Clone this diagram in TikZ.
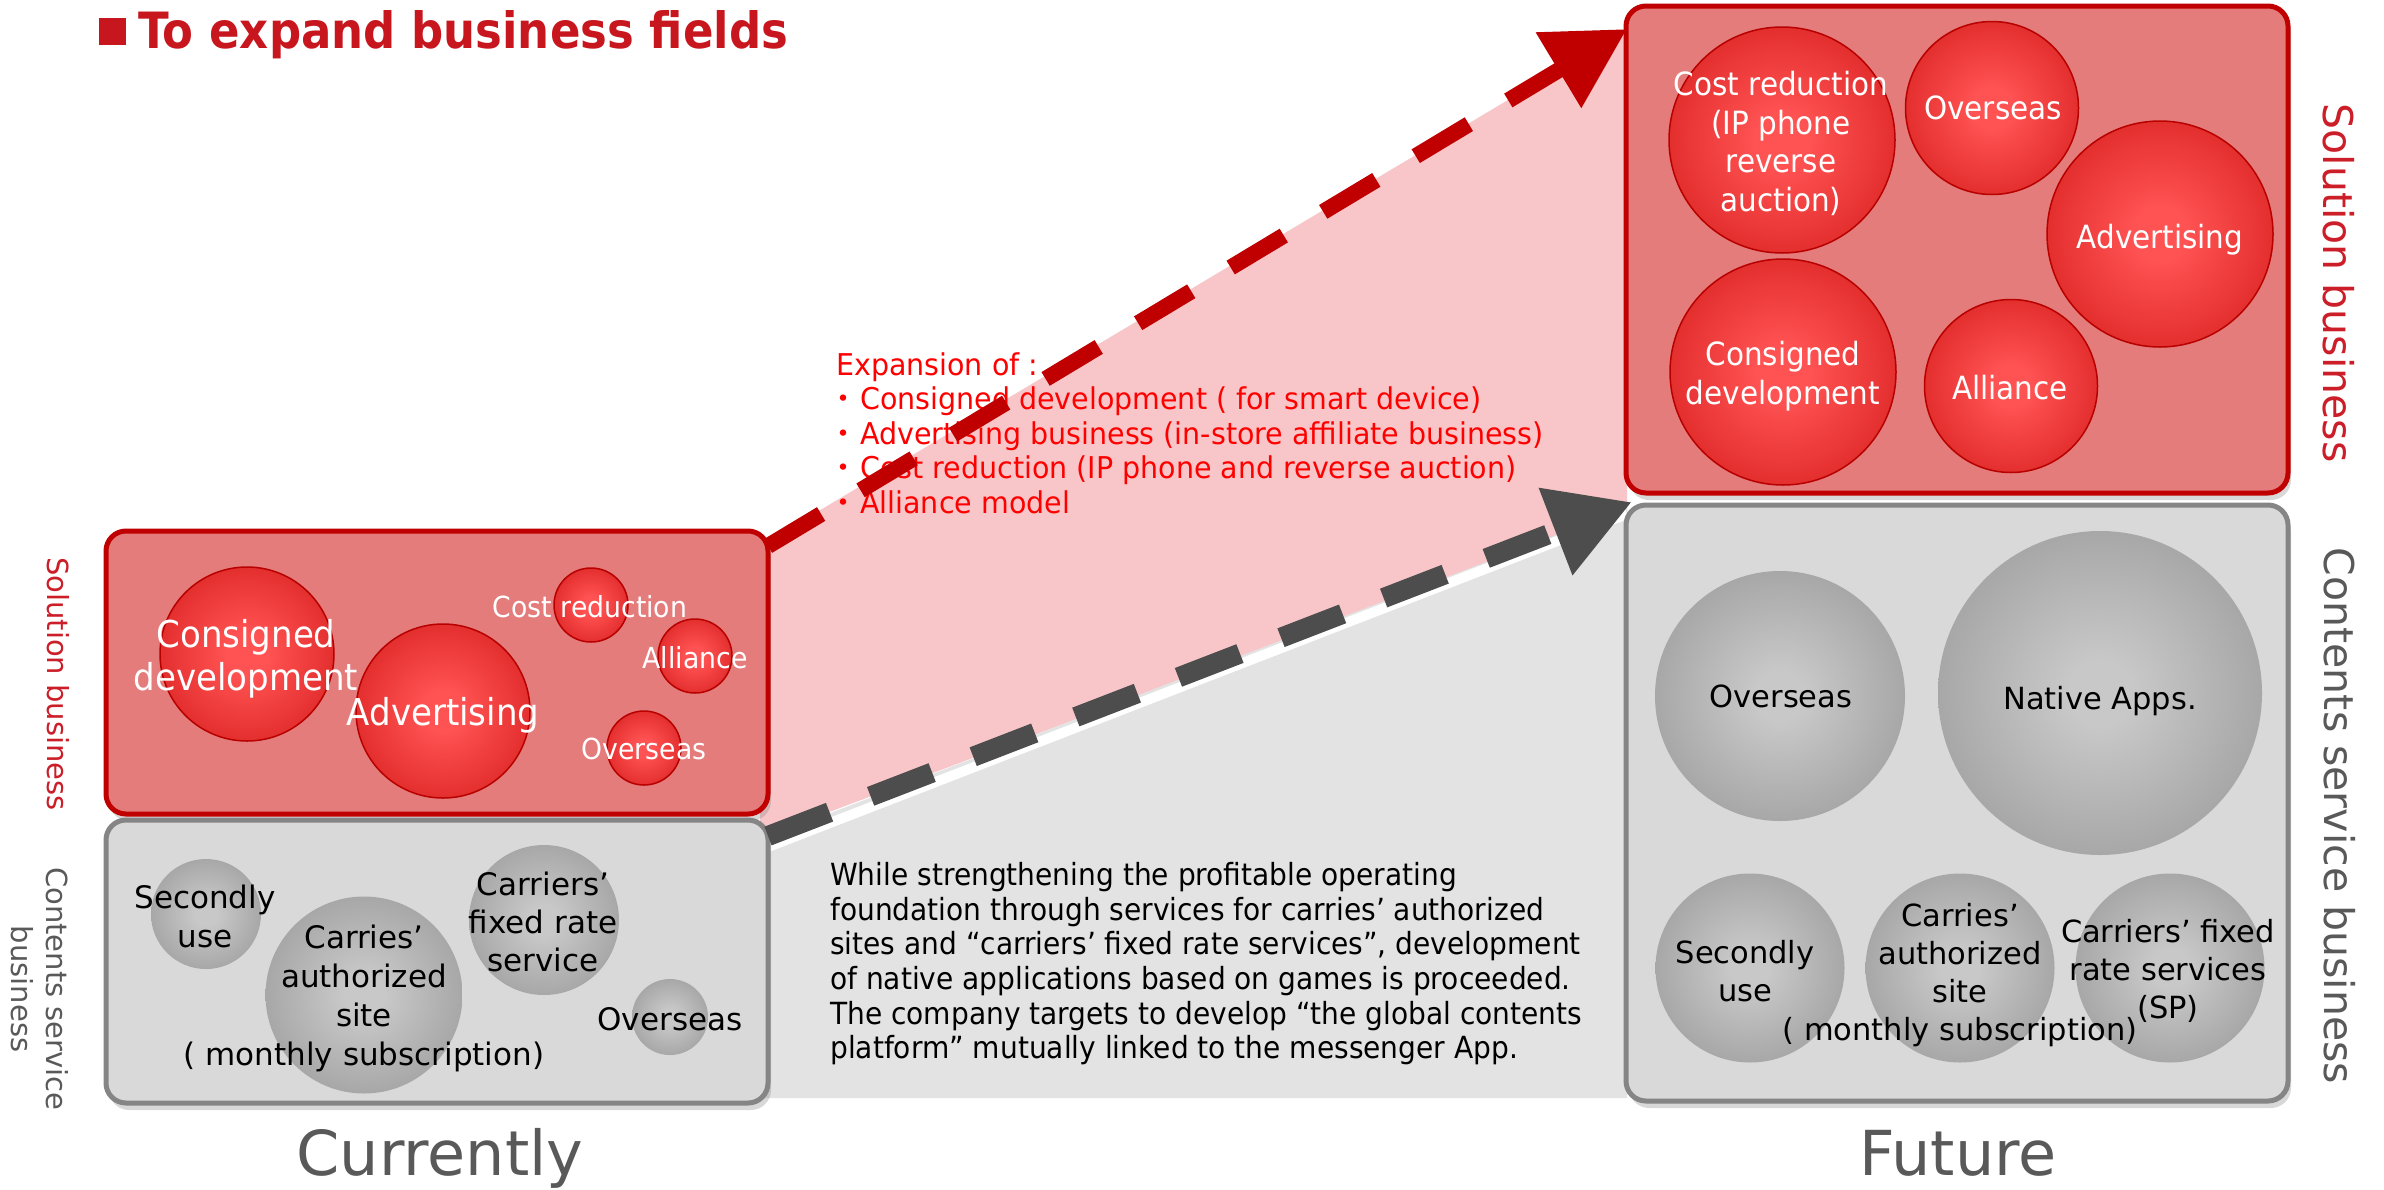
\documentclass[tikz,border=0pt]{standalone}
\usepackage{fontspec}
\setmainfont{DejaVu Sans}
\newfontfamily\cf[FakeStretch=0.92]{DejaVu Sans}
\newfontfamily\ef[FakeStretch=0.95]{DejaVu Sans}
\newfontfamily\tf[FakeStretch=0.9]{DejaVu Sans}
\newfontfamily\nf{DejaVu Sans}
\newfontfamily\cjk{Noto Sans CJK JP}
\usetikzlibrary{arrows.meta,shadows,calc}
\newcommand\myfs[2]{\fontsize{#1pt}{#2pt}\selectfont}
\newcommand\bul{\makebox[24pt][l]{\hspace*{-8pt}{\cjk ・}}}

\definecolor{titlered}{HTML}{C8161E}
\definecolor{vertred}{HTML}{CC1E28}
\definecolor{labgray}{HTML}{595959}
\definecolor{boxred}{HTML}{C00000}
\definecolor{boxredfill}{HTML}{E47C7C}
\definecolor{boxgray}{HTML}{858585}
\definecolor{boxgrayfill}{HTML}{D9D9D9}
\definecolor{pinkw}{HTML}{F8C6C8}
\definecolor{grayw}{HTML}{E3E3E3}
\definecolor{darkdash}{HTML}{4D4D4D}
\definecolor{expred}{HTML}{FF0000}
\definecolor{ballrin}{HTML}{FF5252}
\definecolor{ballrout}{HTML}{C00000}
\definecolor{ballrim}{HTML}{B80000}
\definecolor{ballgin}{HTML}{C8C8C8}
\definecolor{ballgmid}{HTML}{9C9C9C}
\definecolor{ballgout}{HTML}{7C7C7C}

\pgfdeclareradialshading{redball}{\pgfpoint{0bp}{0bp}}{color(0bp)=(ballrin); color(6bp)=(ballrin); color(50bp)=(ballrout); color(100bp)=(ballrout)}
\pgfdeclareradialshading{grayball}{\pgfpoint{0bp}{0bp}}{color(0bp)=(ballgin); color(5bp)=(ballgin); color(32bp)=(ballgmid); color(50bp)=(ballgout); color(100bp)=(ballgout)}

\tikzset{
  boxbase/.style={rectangle, rounded corners=20pt, line width=5pt, inner sep=0pt, outer sep=0pt,
    drop shadow={opacity=0.3, shadow xshift=3pt, shadow yshift=-7pt}},
  redbox/.style={boxbase, draw=boxred, fill=boxredfill},
  graybox/.style={boxbase, draw=boxgray, fill=boxgrayfill},
  rball/.style={circle, shade, shading=redball, draw=ballrim, line width=1.5pt, inner sep=0pt, minimum size=#1},
  gball/.style={circle, shade, shading=grayball, inner sep=0pt, minimum size=#1},
  lbl/.style={inner sep=0pt, align=center, anchor=north},
  wlbl/.style={lbl, text=white},
  blbl/.style={lbl, text=black},
  vlab/.style={inner sep=0pt, align=center, rotate=-90},
  reddash/.style={draw=boxred, line width=16pt, dash pattern=on 62pt off 46pt,
    -{Triangle[length=80pt,width=84pt]}},
  graydash/.style={draw=darkdash, line width=20pt, dash pattern=on 66pt off 44pt,
    -{Triangle[length=82pt,width=88pt]}},
}

\begin{document}
\begin{tikzpicture}[x=1pt,y=-1pt]
\useasboundingbox (0,0) rectangle (2384,1189);
\fill[white] (0,0) rectangle (2384,1189);

% background wedges
\fill[pinkw] (760,546) -- (1627,29) -- (1627,512) -- (760,838) -- cycle;
\fill[grayw] (760,840) -- (1627,508) -- (1627,1098) -- (760,1098) -- cycle;
\draw[white, line width=10pt] (768,847) -- (1627,514);

% title
\node[fill=titlered, minimum width=27pt, minimum height=27pt, inner sep=0pt, anchor=north west] (sq) at (99,18) {};
\node[font=\tf\bfseries\myfs{50}{60}, text=titlered, anchor=base west, inner sep=0pt] (title) at (138,48) {To expand business fields};

% boxes
\node[redbox, minimum width=662pt, minimum height=283pt, anchor=north west] (sc) at (106,531) {};
\node[graybox, minimum width=662pt, minimum height=283pt, anchor=north west] (cc) at (106,820) {};
\node[redbox, minimum width=662pt, minimum height=487pt, anchor=north west] (fs) at (1626,6) {};
\node[graybox, minimum width=662pt, minimum height=596pt, anchor=north west] (fc) at (1626,505) {};

% current solution circles
\node[rball=174pt] (lr1) at (247,654) {};
\node[rball=174pt] (lr2) at (443,711) {};
\node[rball=74pt] (lr3) at (591,605) {};
\node[rball=74pt] (lr4) at (695,656) {};
\node[rball=74pt] (lr5) at (644,748) {};
\node[wlbl, font=\cf\myfs{37}{43}] (lr1t) at (246,619) {Consigned\\development};
\node[wlbl, font=\cf\myfs{37}{43}] (lr2t) at (443,697) {Advertising};
\node[wlbl, font=\cf\myfs{29}{34}] (lr3t) at (590,595) {Cost reduction};
\node[wlbl, font=\cf\myfs{29}{34}] (lr4t) at (695,646) {Alliance};
\node[wlbl, font=\cf\myfs{29}{34}] (lr5t) at (644,738) {Overseas};

% current contents circles
\node[gball=110pt] (lg1) at (206,914) {};
\node[gball=197pt] (lg2) at (364,995) {};
\node[gball=150pt] (lg3) at (544,920) {};
\node[gball=76pt] (lg4) at (670,1017) {};
\node[blbl, font=\nf\myfs{31}{39}] (lg1t) at (205,885) {Secondly\\use};
\node[blbl, font=\nf\myfs{31}{39}] (lg2t) at (364,925) {Carries’\\authorized\\site\\( monthly subscription)};
\node[blbl, font=\nf\myfs{31}{38}] (lg3t) at (543,872) {Carriers’\\fixed rate\\service};
\node[blbl, font=\nf\myfs{31}{38}] (lg4t) at (670,1007) {Overseas};

% future solution circles
\node[rball=226pt] (rr1) at (1782,140) {};
\node[rball=173pt] (rr2) at (1992,108) {};
\node[rball=226pt] (rr3) at (2160,234) {};
\node[rball=226pt] (rr4) at (1783,372) {};
\node[rball=173pt] (rr5) at (2011,386) {};
\node[wlbl, font=\cf\myfs{32}{38.5}] (rr1t) at (1781,71) {Cost reduction\\(IP phone\\reverse\\auction)};
\node[wlbl, font=\cf\myfs{32}{38.5}] (rr2t) at (1993,96) {Overseas};
\node[wlbl, font=\cf\myfs{32}{38.5}] (rr3t) at (2160,224) {Advertising};
\node[wlbl, font=\cf\myfs{32}{38.5}] (rr4t) at (1783,341) {Consigned\\development};
\node[wlbl, font=\cf\myfs{32}{38.5}] (rr5t) at (2010,375) {Alliance};

% future contents circles
\node[gball=250pt] (rg1) at (1780,696) {};
\node[gball=324pt] (rg2) at (2100,693) {};
\node[gball=189pt] (rg3) at (1750,968) {};
\node[gball=189pt] (rg4) at (1960,968) {};
\node[gball=189pt] (rg5) at (2170,968) {};
\node[blbl, font=\nf\myfs{30.5}{38}] (rg1t) at (1781,685) {Overseas};
\node[blbl, font=\nf\myfs{30.5}{38}] (rg2t) at (2100,686) {Native Apps.};
\node[blbl, font=\nf\myfs{30.5}{38}] (rg3t) at (1745,940) {Secondly\\use};
\node[blbl, font=\nf\myfs{30.5}{38}] (rg4t) at (1960,903) {Carries’\\authorized\\site\\( monthly subscription)};
\node[blbl, font=\nf\myfs{30.5}{38}] (rg5t) at (2168,919) {Carriers’ fixed\\rate services\\(SP)};

% side labels
\node[vlab, font=\nf\myfs{41}{48}, text=vertred] (vsr) at (2339,283) {Solution business};
\node[vlab, font=\nf\myfs{41}{48}, text=labgray] (vcr) at (2340,816) {Contents service business};
\node[vlab, font=\nf\myfs{29}{35}, text=vertred] (vsl) at (58,684) {Solution business};
\node[vlab, font=\nf\myfs{29}{35}, text=labgray] (vcl) at (40,989) {Contents service\\business};

% bottom labels
\node[font=\nf\myfs{62}{72}, text=labgray, anchor=base, inner sep=0pt] (cur) at (440,1175) {Currently};
\node[font=\nf\myfs{62}{72}, text=labgray, anchor=base, inner sep=0pt] (fut) at (1958,1175) {Future};

% texts
\node[font=\ef\myfs{30}{34.5}, text=expred, align=left, anchor=north west, inner sep=0pt] (exp) at (836,352)
  {Expansion of :\\\bul Consigned development ( for smart device)\\\bul Advertising business (in-store affiliate business)\\\bul Cost reduction (IP phone and reverse auction)\\\bul Alliance model};
\node[font=\cf\myfs{30.5}{34.7}, align=left, anchor=north west, inner sep=0pt] (para) at (830,862)
  {While strengthening the profitable operating\\foundation through services for carries’ authorized\\sites and “carriers’ fixed rate services”, development\\of native applications based on games is proceeded.\\The company targets to develop “the global contents\\platform” mutually linked to the messenger App.};

% arrows
\draw[reddash] ($(sc.north east)+(0,15)$) -- ($(fs.north west)+(1,23)$);
\draw[graydash] ($(cc.north east)+(0,16)$) -- ($(fc.north west)+(6,-3)$);
\end{tikzpicture}
\end{document}
